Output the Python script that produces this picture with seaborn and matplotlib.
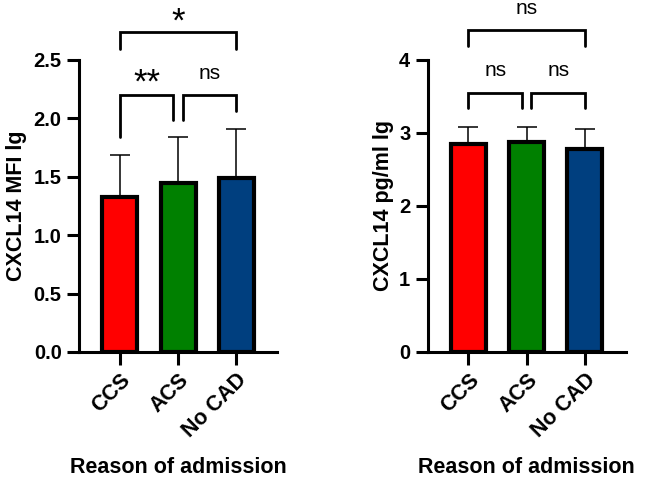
import matplotlib
matplotlib.use("Agg")
import matplotlib.pyplot as plt
import seaborn as sns
import numpy as np
import pandas as pd

groups = ["CCS", "ACS", "No CAD"]
colors = ["#FF0000", "#008000", "#003F7F"]

mfi_mean = [1.33, 1.45, 1.49]
mfi_sd = [0.36, 0.39, 0.42]
pg_mean = [2.85, 2.87, 2.78]
pg_sd = [0.23, 0.21, 0.27]

# brackets: (x1, x2, y bar, y left leg, y right leg, label, label y)
mfi_brackets = [
    (0, 0.92, 2.20, 1.84, 1.99, "**", 2.30),
    (1.08, 2, 2.20, 1.99, 2.06, "ns", 2.38),
    (0, 2, 2.74, 2.59, 2.59, "*", 2.82),
]
pg_brackets = [
    (0, 0.92, 3.55, 3.34, 3.34, "ns", 3.86),
    (1.08, 2, 3.55, 3.34, 3.34, "ns", 3.86),
    (0, 2, 4.41, 4.19, 4.19, "ns", 4.71),
]

sns.set_style("ticks")
plt.rcParams["font.family"] = ["Liberation Sans", "DejaVu Sans"]
plt.rcParams["font.weight"] = "bold"
for k in ["text.color", "axes.labelcolor", "xtick.color", "ytick.color", "axes.edgecolor"]:
    plt.rcParams[k] = "black"

fig = plt.figure(figsize=(6.48, 4.78), dpi=100)
ax1 = fig.add_axes([0.122, 0.2636, 0.3056, 0.611])
ax2 = fig.add_axes([0.660, 0.2636, 0.3056, 0.611])


def draw(ax, means, sds, brackets, ylim, yticks, yfmt, ylabel, ypad):
    df = pd.DataFrame({"group": groups, "value": means})
    sns.barplot(data=df, x="group", y="value", hue="group", palette=colors,
                saturation=1, errorbar=None, width=0.6, edgecolor="black",
                linewidth=3, legend=False, ax=ax, zorder=3)
    ax.errorbar(np.arange(len(groups)), means, yerr=[np.zeros(len(sds)), sds],
                fmt="none", ecolor="black", elinewidth=1.1, capsize=7,
                capthick=1.1, zorder=2)
    ax.set_xlim(-0.7, 2.7)
    ax.set_ylim(*ylim)
    ax.set_yticks(yticks)
    ax.set_yticklabels([yfmt.format(t) for t in yticks], fontsize=14.5, fontweight="bold")
    ax.set_xticks(range(len(groups)))
    ax.set_xticklabels(groups, rotation=45, ha="right", rotation_mode="anchor",
                       fontsize=15.5, fontweight="bold")
    ax.set_ylabel(ylabel, fontsize=15.5, fontweight="bold", labelpad=ypad)
    ax.set_xlabel("Reason of admission", fontsize=15.5, fontweight="bold", labelpad=11)
    sns.despine(ax=ax)
    for s in ["left", "bottom"]:
        ax.spines[s].set_linewidth(2.2)
    ax.tick_params(width=2.2, length=9)
    for x1, x2, yb, yl, yr, lab, ty in brackets:
        ax.plot([x1, x1, x2, x2], [yl, yb, yb, yr], color="black", lw=2,
                clip_on=False, solid_joinstyle="miter")
        if "*" in lab:
            ax.text((x1 + x2) / 2, ty, lab, ha="center", va="center", fontsize=25,
                    fontweight="normal", clip_on=False)
        else:
            ax.text((x1 + x2) / 2, ty, lab, ha="center", va="center", fontsize=15,
                    fontweight="normal", clip_on=False)


draw(ax1, mfi_mean, mfi_sd, mfi_brackets, (0, 2.5), [0, 0.5, 1.0, 1.5, 2.0, 2.5],
     "{:.1f}", "CXCL14 MFI lg", 5)
draw(ax2, pg_mean, pg_sd, pg_brackets, (0, 4), [0, 1, 2, 3, 4],
     "{:.0f}", "CXCL14 pg/ml lg", 4)

fig.savefig("out.png", dpi=100)
